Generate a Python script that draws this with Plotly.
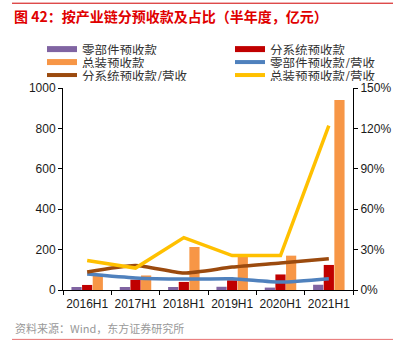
import plotly.graph_objects as go

categories = ["2016H1", "2017H1", "2018H1", "2019H1", "2020H1", "2021H1"]
parts_adv = [15, 15, 15, 16, 12, 26]
subsys_adv = [25, 51, 40, 48, 77, 124]
assembly_adv = [80, 72, 213, 164, 170, 941]
parts_ratio = [0.118, 0.089, 0.081, 0.084, 0.059, 0.084]
subsys_ratio = [0.133, 0.182, 0.126, 0.170, 0.200, 0.232]
assembly_ratio = [0.219, 0.163, 0.389, 0.256, 0.256, 1.22]

names = ["零部件预收款", "分系统预收款", "总装预收款",
         "零部件预收款/营收", "分系统预收款/营收", "总装预预收款/营收"]
C_PURPLE = "#8064A2"
C_RED = "#C00000"
C_ORANGE = "#F79646"
C_BLUE = "#4F81BD"
C_BROWN = "#9B4A0E"
C_YELLOW = "#FFC000"

FONT = "Liberation Sans, Arial, Noto Sans CJK SC, sans-serif"
CJK = "Noto Sans CJK SC, sans-serif"

W, H = 401, 356
L, R, T, B = 63, 48, 88, 65.5
PW, PH = W - L - R, H - T - B


def px(x):
    return (x - L) / PW


def py(y):
    return (H - B - y) / PH


fig = go.Figure()
for vals, col, nm in [(parts_adv, C_PURPLE, names[0]), (subsys_adv, C_RED, names[1]),
                      (assembly_adv, C_ORANGE, names[2])]:
    fig.add_trace(go.Bar(x=categories, y=vals, name=nm, marker=dict(color=col, line=dict(width=0)),
                         yaxis="y"))

fig.add_trace(go.Scatter(x=categories, y=parts_ratio, mode="lines", yaxis="y2", name=names[3],
                         line=dict(color=C_BLUE, width=3.5, shape="spline", smoothing=0.6)))
fig.add_trace(go.Scatter(x=categories, y=subsys_ratio, mode="lines", yaxis="y2", name=names[4],
                         line=dict(color=C_BROWN, width=3.5, shape="spline", smoothing=0.6)))
fig.add_trace(go.Scatter(x=categories, y=assembly_ratio, mode="lines", yaxis="y2", name=names[5],
                         line=dict(color=C_YELLOW, width=3.5)))

fig.update_layout(
    width=W, height=H,
    margin=dict(l=L, r=R, t=T, b=B, autoexpand=False),
    paper_bgcolor="white", plot_bgcolor="white",
    font=dict(family=FONT, size=12, color="#1a1a1a"),
    barmode="group", bargap=0.34, bargroupgap=0.04,
    showlegend=False,
    xaxis=dict(type="category", showline=True, linecolor="black", linewidth=1,
               ticks="outside", tickson="boundaries", ticklen=4, tickcolor="black",
               showgrid=False, tickangle=0, ticklabelstandoff=3, tickfont=dict(size=12)),
    yaxis=dict(range=[0, 1000], dtick=200, showline=True, linecolor="black", linewidth=1,
               ticks="outside", ticklen=4, tickcolor="black", showgrid=False, zeroline=False,
               tickfont=dict(size=12)),
    yaxis2=dict(range=[0, 1.5], dtick=0.3, tickformat=".0%", overlaying="y", side="right",
                showline=True, linecolor="black", linewidth=1, ticks="outside", ticklen=4,
                tickcolor="black", showgrid=False, zeroline=False, tickfont=dict(size=12)),
)

# custom legend (2 columns, 3 rows as in the reference)
legend_cols = [C_PURPLE, C_RED, C_ORANGE, C_BLUE, C_BROWN, C_YELLOW]
legend_kind = ["bar", "bar", "bar", "line", "line", "line"]
col_x = [47, 235]
row_y = [49, 62, 75]
for i, (nm, col, kind) in enumerate(zip(names, legend_cols, legend_kind)):
    cx = col_x[i % 2]
    ry = row_y[i // 2]
    fig.add_shape(type="line", xref="paper", yref="paper",
                  x0=px(cx), x1=px(cx + 30), y0=py(ry), y1=py(ry),
                  line=dict(color=col, width=6 if kind == "bar" else 4))
    fig.add_annotation(xref="paper", yref="paper", x=px(cx + 34), y=py(ry),
                       xanchor="left", yanchor="middle", showarrow=False, text=nm,
                       height=12, valign="middle", borderpad=0,
                       font=dict(size=12.5, color="#333333", family=CJK))

fig.add_annotation(xref="paper", yref="paper", x=px(12), y=py(16),
                   xanchor="left", yanchor="middle", showarrow=False,
                   text="<b>图 42：按产业链分预收款及占比（半年度，亿元）</b>",
                   font=dict(size=14, color="#E00000", family=CJK))
fig.add_annotation(xref="paper", yref="paper", x=px(13), y=py(329),
                   xanchor="left", yanchor="middle", showarrow=False,
                   text="资料来源：Wind，东方证券研究所",
                   font=dict(size=11, color="#999999", family=CJK))
fig.add_shape(type="line", xref="paper", yref="paper",
              x0=px(12), x1=px(393), y0=py(3), y1=py(3),
              line=dict(color="#D00000", width=1))
fig.add_shape(type="line", xref="paper", yref="paper",
              x0=px(12), x1=px(393), y0=py(340), y1=py(340),
              line=dict(color="#E87070", width=1))

fig.write_html("out.html", config={"displayModeBar": False},
               post_script="document.body.style.margin='0';")
